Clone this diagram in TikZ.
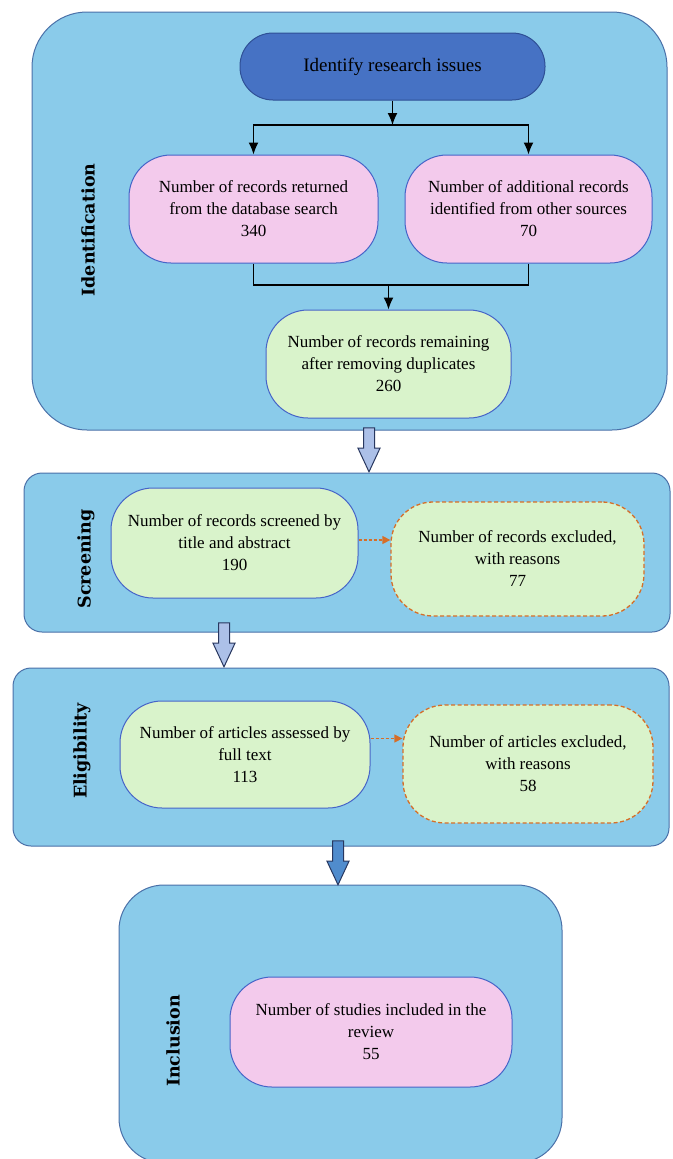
\documentclass[tikz,border=0pt]{standalone}
\usepackage{fontspec}
\setmainfont{Liberation Serif}
\newfontfamily\stagefont{DejaVu Serif}
\usetikzlibrary{shapes.arrows,arrows.meta}

\definecolor{panelblue}{RGB}{138,203,234}
\definecolor{paneledge}{RGB}{74,112,168}
\definecolor{issueblue}{RGB}{70,114,196}
\definecolor{issueedge}{RGB}{47,80,150}
\definecolor{boxpink}{RGB}{243,202,236}
\definecolor{boxgreen}{RGB}{217,243,203}
\definecolor{boxedge}{RGB}{70,100,200}
\definecolor{exclorange}{RGB}{214,110,40}
\definecolor{arrowlav}{RGB}{172,192,232}
\definecolor{arrowsteel}{RGB}{80,140,205}
\definecolor{arrowedge}{RGB}{40,55,95}

\tikzset{
  panel/.style={draw=paneledge, fill=panelblue, line width=1pt},
  stage/.style={rotate=90, font=\stagefont\bfseries\fontsize{17.5}{20}\selectfont},
  box/.style={draw=boxedge, line width=1pt, rounded corners=42pt, align=center,
    font=\fontsize{17}{22}\selectfont, inner sep=2pt},
  pinkbox/.style={box, fill=boxpink},
  greenbox/.style={box, fill=boxgreen},
  exclbox/.style={box, fill=boxgreen, draw=exclorange, line width=1.3pt,
    dash pattern=on 4pt off 2.5pt},
  link/.style={line width=1.5pt, -{Latex[length=12pt,width=10pt]}},
  exclarrow/.style={draw=exclorange, line width=1.3pt, dash pattern=on 3pt off 2pt,
    -{Triangle[length=8pt,width=8pt]}},
  bigarrow/.style={single arrow, draw=arrowedge, line width=1pt, shape border rotate=270,
    inner sep=5pt, minimum height=44pt, minimum width=22pt, anchor=tip,
    single arrow tip angle=50, single arrow head extend=5.5pt}
}

\begin{document}
\begin{tikzpicture}[x=1pt,y=-1pt]
\useasboundingbox (0,0) rectangle (672,1159);
\clip (0,0) rectangle (672,1159);

% stage panels
\node[panel, rounded corners=55pt, minimum width=635pt, minimum height=418pt] (idpanel) at (349.5,221) {};
\node[panel, rounded corners=18pt, minimum width=646pt, minimum height=159pt] (scpanel) at (347,552.5) {};
\node[panel, rounded corners=18pt, minimum width=656pt, minimum height=178pt] (elpanel) at (341,757) {};
\node[panel, rounded corners=45pt, minimum width=443pt, minimum height=278pt] (inpanel) at (340.5,1024) {};

\node[stage] (idlabel) at (88,230) {Identification};
\node[stage] (sclabel) at (86,559) {Screening};
\node[stage] (ellabel) at (82,751) {Eligibility};
\node[stage] (inlabel) at (173,1041) {Inclusion};

% boxes
\node[box, fill=issueblue, draw=issueedge, rounded corners=33pt, minimum width=305pt, minimum height=67pt,
  font=\fontsize{19}{22}\selectfont] (issue) at (392.5,66.5) {Identify research issues};
\node[pinkbox, minimum width=249pt, minimum height=108pt] (recA) at (253.5,209)
  {Number of records returned\\from the database search\\340};
\node[pinkbox, minimum width=247pt, minimum height=108pt] (recB) at (528.5,209)
  {Number of additional records\\identified from other sources\\70};
\node[greenbox, minimum width=245pt, minimum height=108pt] (remain) at (388.5,364)
  {Number of records remaining\\after removing duplicates\\260};
\node[greenbox, minimum width=247pt, minimum height=110pt] (screen) at (234.5,543)
  {Number of records screened by\\title and abstract\\190};
\node[exclbox, minimum width=253pt, minimum height=114pt] (exclS) at (517.5,559)
  {Number of records excluded,\\with reasons\\77};
\node[greenbox, minimum width=250pt, minimum height=107pt] (assess) at (245,754.5)
  {Number of articles assessed by\\full text\\113};
\node[exclbox, minimum width=250pt, minimum height=118pt] (exclA) at (528,764)
  {Number of articles excluded,\\with reasons\\58};
\node[pinkbox, minimum width=282pt, minimum height=110pt] (incl) at (371,1032)
  {Number of studies included in the\\review\\55};

% stage arrows
\node[bigarrow, fill=arrowlav] (arrA) at (369,473) {};
\node[bigarrow, fill=arrowlav] (arrB) at (224,668) {};
\node[bigarrow, fill=arrowsteel] (arrC) at (338,886) {};

% connectors
\coordinate (split) at (392.5,125);
\coordinate (merge) at (388.5,285);
\draw[link] (issue) -- (split);
\draw[link] (split) -| (recA);
\draw[link] (split) -| (recB);
\draw[line width=1.5pt] (recA) |- (merge);
\draw[line width=1.5pt] (recB) |- (merge);
\draw[link] (merge) -- (remain);
\draw[exclarrow] ([yshift=3pt]screen.east) -- ([yshift=3pt]screen.east -| exclS.west);
\draw[exclarrow] ([yshift=16pt]assess.east) -- ([yshift=16pt]assess.east -| exclA.west);
\end{tikzpicture}
\end{document}
